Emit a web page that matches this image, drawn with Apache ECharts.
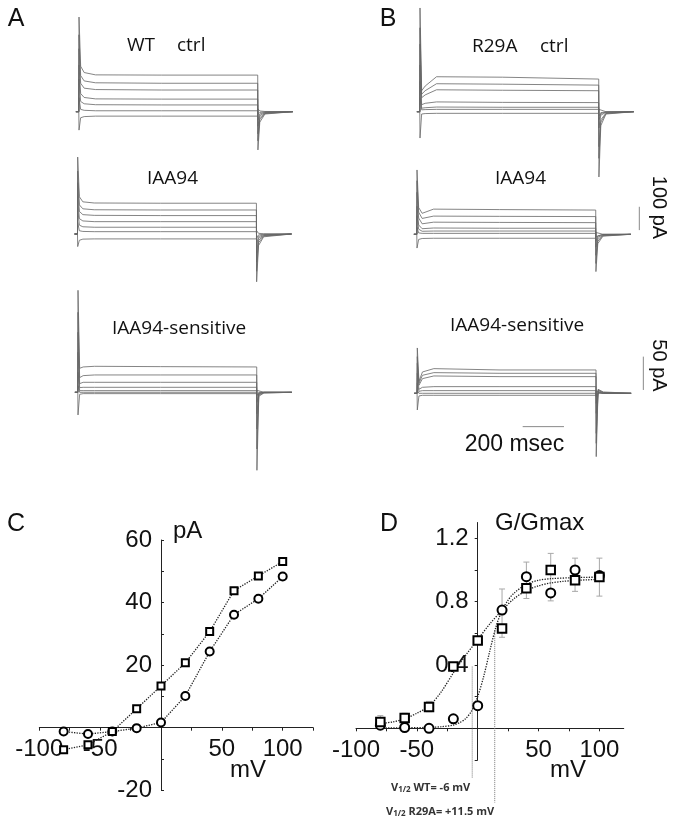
<!DOCTYPE html>
<html><head><meta charset="utf-8">
<script src="https://cdn.jsdelivr.net/npm/echarts@6/dist/echarts.min.js"></script>
<style>html,body{margin:0;padding:0;background:#fff}#c{width:683px;height:824px}</style>
</head><body><div id="c"></div>
<script>
// ---------- current traces (pA) sampled at shared times (ms) ----------
const tPts = [-15, -1, 0, 8, 25, 80, 400, 865, 866, 875, 900, 1035];
const aCtrl = [
  [0,0,406,195,168,158,157,157,-164,-45,-10,0],
  [0,0,330,155,132,124,122,122,-125,-34,-8,0],
  [0,0,270,122,101,95,93,93,-95,-26,-6,0],
  [0,0,200,78,61,55,54,54,-62,-17,-4,0],
  [0,0,140,44,34,30,29,29,-36,-10,-2,0],
  [0,0,60,10,6,4,4,4,-12,-3,-1,0],
  [0,0,-79,-26,-21,-19,-19,-19,12,3,1,0]
];
const aIaa = [
  [0,0,330,160,138,133,132,132,-205,-50,-12,0],
  [0,0,270,125,108,104,103,103,-160,-38,-9,0],
  [0,0,220,97,83,80,79,79,-120,-28,-7,0],
  [0,0,160,66,56,53,53,53,-80,-19,-5,0],
  [0,0,110,38,31,29,29,29,-45,-11,-3,0],
  [0,0,50,14,11,10,10,10,-18,-4,-1,0],
  [0,0,-54,-27,-22,-21,-21,-21,14,3,1,0]
];
const aSens = [
  [0,0,153,36,38,39,38.5,38,-117,-6,-1,0],
  [0,0,120,22,25,26,26,26,-85,-4,-1,0],
  [0,0,90,13,15,15,15,15,-55,-3,0,0],
  [0,0,60,7,7.5,7.5,7.5,7.5,-32,-2,0,0],
  [0,0,30,2.5,2.5,2.5,2.5,2.5,-15,-1,0,0],
  [0,0,10,0,0,0,0,0,-5,0,0,0],
  [0,0,-34,-3,-2,-2,-2,-2,3,0,0,0]
];
const bCtrl = [
  [0,0,445,90,110,150,148,140,-280,-60,-10,0],
  [0,0,360,75,90,120,118,114,-200,-45,-8,0],
  [0,0,290,60,72,94,92,90,-150,-35,-6,0],
  [0,0,200,30,36,42,40,39,-70,-15,-3,0],
  [0,0,130,15,17,20,19,19,-35,-8,-2,0],
  [0,0,60,8,9,10,10,10,-18,-4,-1,0],
  [0,0,-113,-10,-8,-7,-7,-7,10,2,0,0]
];
const bIaa = [
  [0,0,276,115,90,108,106,104,-160,-40,-8,0],
  [0,0,230,95,68,78,77,76,-125,-30,-6,0],
  [0,0,180,70,45,52,51,50,-90,-22,-4,0],
  [0,0,120,40,24,27,26,26,-55,-13,-3,0],
  [0,0,80,22,13,14,14,14,-30,-7,-1,0],
  [0,0,30,6,4,4,4,4,-10,-2,0,0],
  [0,0,-59,-22,-18,-17,-17,-17,8,2,0,0]
];
const bSens = [
  [0,0,68,18,32,37,35,35,-95,6,2,0],
  [0,0,55,15,27,31,30,30,-75,5,1,0],
  [0,0,45,12,22,26,25,25,-60,4,1,0],
  [0,0,30,6,9,10,10,10,-30,2,0,0],
  [0,0,15,3,4,4,4,4,-15,1,0,0],
  [0,0,5,0,0,0,0,0,-5,0,0,0],
  [0,0,-25,-4,-3,-3,-3,-3,3,0,0,0]
];
// scale bars (data units of their panels)
const bar100pA = [[1076, 18], [1076, 118]];
const bar50pA = [[1094, 5], [1094, 55]];
const bar200ms = [[510, -50], [710, -50]];

// ---------- panel C: I-V ----------
const ivV = [-80, -60, -40, -20, 0, 20, 40, 60, 80, 100];
const wtIV = [-7.1, -5.5, -1.3, 6.0, 13.3, 20.7, 30.7, 43.8, 48.5, 53.1];
const r29IV = [-1.3, -2.1, -1.3, -0.2, 1.6, 10.1, 24.3, 36.1, 41.2, 48.3];
const cXLabels = [-100, -50, 50, 100];
const cYLabels = [-20, 20, 40, 60];

// ---------- panel D: G/Gmax ----------
const wtG = [0.04, 0.065, 0.135, 0.39, 0.555, 0.63, 0.885, 1.0, 0.935, 0.955];
const r29G = [0.02, 0.005, 0.0, 0.06, 0.143, 0.747, 0.958, 0.855, 1.0, 0.965];
const errV = [-80, -60, -40, 20, 40, 60, 80, 100];
const errLo = [0.01, 0.035, 0.105, 0.575, 0.82, 0.805, 0.865, 0.835];
const errHi = [0.08, 0.095, 0.17, 0.88, 1.05, 1.105, 1.075, 1.075];
const wtFitV = [-80, -70, -60, -50, -40, -30, -20, -10, 0, 10, 20, 30, 40, 50, 60, 70, 80, 90, 100];
const wtFitG = [0.03, 0.04, 0.06, 0.095, 0.14, 0.23, 0.35, 0.46, 0.56, 0.66, 0.745, 0.82, 0.87, 0.9, 0.918, 0.928, 0.934, 0.938, 0.94];
const r29FitV = [-80, -60, -40, -30, -20, -15, -10, -5, 0, 5, 10, 15, 20, 25, 30, 40, 50, 60, 80, 100];
const r29FitG = [0.002, 0.003, 0.006, 0.01, 0.02, 0.035, 0.06, 0.11, 0.2, 0.33, 0.49, 0.64, 0.745, 0.81, 0.855, 0.91, 0.935, 0.945, 0.952, 0.955];
const halfWT = [[-4.5, 0.39], [-4.5, -0.315]];
const halfR29 = [[14, 0.62], [14, -0.47]];
const dXLabels = [-100, -50, 50, 100];
const dYLabels = [0.4, 0.8, 1.2];

// ---------- layout ----------
const MS_PX = 1 / 4.84;
const T_MIN = -40, T_MAX = 1100;
function traceGrid(x0, base, paPerPx, yMin, yMax) {
  return { left: x0 + T_MIN * MS_PX, top: base - yMax / paPerPx,
           width: (T_MAX - T_MIN) * MS_PX, height: (yMax - yMin) / paPerPx };
}
const panels = [
  { d: aCtrl, g: traceGrid(79, 111.7, 4.29, -300, 460), y: [-300, 460] },
  { d: aIaa,  g: traceGrid(77.7, 234, 4.29, -300, 460), y: [-300, 460] },
  { d: aSens, g: traceGrid(78, 392.3, 1.5, -150, 170), y: [-150, 170] },
  { d: bCtrl, g: traceGrid(420, 111.7, 4.29, -300, 460), y: [-300, 460] },
  { d: bIaa,  g: traceGrid(417, 234.3, 4.29, -300, 460), y: [-300, 460] },
  { d: bSens, g: traceGrid(417.3, 393.3, 1.5, -150, 170), y: [-150, 170] }
];
const grids = [], xAxes = [], yAxes = [], series = [];
panels.forEach((p, i) => {
  grids.push(p.g);
  xAxes.push({ type: 'value', gridIndex: i, min: T_MIN, max: T_MAX, show: false });
  yAxes.push({ type: 'value', gridIndex: i, min: p.y[0], max: p.y[1], show: false });
  p.d.forEach(tr => {
    series.push({ type: 'line', xAxisIndex: i, yAxisIndex: i, showSymbol: false, silent: true,
      data: tPts.map((t, k) => [t, tr[k]]),
      lineStyle: { color: '#666', width: 0.8 } });
  });
});
const scaleStyle = { color: '#8a8a8a', width: 1 };
series.push({ type: 'line', xAxisIndex: 4, yAxisIndex: 4, data: bar100pA, showSymbol: false, clip: false, lineStyle: scaleStyle });
series.push({ type: 'line', xAxisIndex: 5, yAxisIndex: 5, data: bar50pA, showSymbol: false, clip: false, lineStyle: scaleStyle });
series.push({ type: 'line', xAxisIndex: 5, yAxisIndex: 5, data: bar200ms, showSymbol: false, clip: false, lineStyle: scaleStyle });

const FONT = '"Liberation Sans", Arial, sans-serif';
const axisLabelBase = { fontFamily: FONT, fontSize: 24, color: '#111' };
const axLine = { onZero: false, lineStyle: { color: '#222', width: 1 } };
const pxPerMV = 1.217;
// C grid (index 6): origin at (161, 727.7)
const cGrid = { left: 161 - 100 * pxPerMV, top: 540, width: 225 * pxPerMV, height: 250 };
grids.push(cGrid);
xAxes.push({ type: 'value', gridIndex: 6, min: -100, max: 125, axisLine: axLine,
  offset: -(cGrid.top + cGrid.height - 727.7), splitLine: { show: false },
  axisTick: { show: true, length: 3, customValues: [-100, -75, -50, -25, 25, 50, 75, 100, 125], lineStyle: { color: '#222' } },
  axisLabel: Object.assign({ customValues: cXLabels, margin: 10 }, axisLabelBase) });
yAxes.push({ type: 'value', gridIndex: 6, min: -20, max: 60, axisLine: axLine,
  offset: -(161 - cGrid.left), splitLine: { show: false },
  axisTick: { show: true, inside: true, length: 3, customValues: [-20, -10, 10, 20, 30, 40, 50, 60], lineStyle: { color: '#222' } },
  axisLabel: Object.assign({ customValues: cYLabels, margin: 9 }, axisLabelBase) });
// D grid (index 7): origin at (477.7, 728.3)
const dGrid = { left: 477.7 - 100 * pxPerMV, top: 728.3 - 1.3 * 158.3, width: 220 * pxPerMV, height: 1.5 * 158.3 };
grids.push(dGrid);
xAxes.push({ type: 'value', gridIndex: 7, min: -100, max: 120, axisLine: axLine,
  offset: -(dGrid.top + dGrid.height - 728.3), splitLine: { show: false },
  axisTick: { show: true, length: 3, customValues: [-100, -75, -50, -25, 25, 50, 75, 100], lineStyle: { color: '#222' } },
  axisLabel: Object.assign({ customValues: dXLabels, margin: 10 }, axisLabelBase) });
yAxes.push({ type: 'value', gridIndex: 7, min: -0.2, max: 1.3, axisLine: axLine,
  offset: -(477.7 - dGrid.left), splitLine: { show: false },
  axisTick: { show: true, length: 3, customValues: [-0.2, 0.2, 0.4, 0.6, 0.8, 1.0, 1.2], lineStyle: { color: '#222' } },
  axisLabel: Object.assign({ customValues: dYLabels, margin: 9, formatter: v => v.toFixed(1) }, axisLabelBase) });

const dotted = { type: 'dotted', color: '#222', width: 1.3 };
const hollow = { color: '#fff', borderColor: '#000', borderWidth: 2, opacity: 1 };
series.push({ type: 'line', xAxisIndex: 6, yAxisIndex: 6, data: ivV.map((v, i) => [v, r29IV[i]]),
  symbol: 'circle', symbolSize: 8, lineStyle: dotted, itemStyle: hollow, z: 3 });
series.push({ type: 'line', xAxisIndex: 6, yAxisIndex: 6, data: ivV.map((v, i) => [v, wtIV[i]]),
  symbol: 'rect', symbolSize: 7, lineStyle: dotted, itemStyle: hollow, z: 4 });

// D: error bars
series.push({ type: 'custom', xAxisIndex: 7, yAxisIndex: 7, z: 2,
  data: errV.map((v, i) => [v, errLo[i], errHi[i]]),
  renderItem: function (params, api) {
    const a = api.coord([api.value(0), api.value(1)]);
    const b = api.coord([api.value(0), api.value(2)]);
    const st = { stroke: '#a8a8a8', lineWidth: 1 };
    return { type: 'group', children: [
      { type: 'line', shape: { x1: a[0], y1: a[1], x2: b[0], y2: b[1] }, style: st },
      { type: 'line', shape: { x1: a[0] - 3, y1: a[1], x2: a[0] + 3, y2: a[1] }, style: st },
      { type: 'line', shape: { x1: b[0] - 3, y1: b[1], x2: b[0] + 3, y2: b[1] }, style: st }
    ] };
  } });
series.push({ type: 'line', xAxisIndex: 7, yAxisIndex: 7, data: wtFitV.map((v, i) => [v, wtFitG[i]]),
  showSymbol: false, smooth: 0.3, lineStyle: dotted, z: 3 });
series.push({ type: 'line', xAxisIndex: 7, yAxisIndex: 7, data: r29FitV.map((v, i) => [v, r29FitG[i]]),
  showSymbol: false, smooth: 0.3, lineStyle: dotted, z: 3 });
const halfStyle = { type: 'dotted', color: '#777', width: 1 };
series.push({ type: 'line', xAxisIndex: 7, yAxisIndex: 7, data: halfWT, showSymbol: false, clip: false, lineStyle: halfStyle, z: 2 });
series.push({ type: 'line', xAxisIndex: 7, yAxisIndex: 7, data: halfR29, showSymbol: false, clip: false, lineStyle: halfStyle, z: 2 });
series.push({ type: 'scatter', xAxisIndex: 7, yAxisIndex: 7, data: ivV.map((v, i) => [v, r29G[i]]),
  symbol: 'circle', symbolSize: 9, itemStyle: hollow, z: 5 });
series.push({ type: 'scatter', xAxisIndex: 7, yAxisIndex: 7, data: ivV.map((v, i) => [v, wtG[i]]),
  symbol: 'rect', symbolSize: 8.5, itemStyle: hollow, z: 6 });

// ---------- text ----------
function txt(x, y, text, font, align, extra) {
  return Object.assign({ type: 'text', x: x, y: y, z: 100, silent: true,
    style: { text: text, font: font, fill: '#111', align: align || 'left', verticalAlign: 'middle',
             textAlign: align || 'left', textVerticalAlign: 'middle' } }, extra || {});
}
const TF = '19px "Open Sans", sans-serif';
const LF = '25px ' + FONT;
const graphic = [
  txt(16, 19, 'A', LF, 'center'), txt(388, 19, 'B', LF, 'center'),
  txt(16, 524, 'C', LF, 'center'), txt(389, 524, 'D', LF, 'center'),
  txt(127, 46, 'WT', TF), txt(177, 46, 'ctrl', TF),
  txt(472, 46.5, 'R29A', TF), txt(540, 46.5, 'ctrl', TF),
  txt(147, 179, 'IAA94', TF), txt(495, 178.3, 'IAA94', TF),
  txt(112, 328.5, 'IAA94-sensitive', TF), txt(450, 325.5, 'IAA94-sensitive', TF),
  txt(659, 207.5, '100 pA', '20px ' + FONT, 'center', { rotation: -Math.PI / 2 }),
  txt(659, 365.5, '50 pA', '20px ' + FONT, 'center', { rotation: -Math.PI / 2 }),
  txt(514.5, 445, '200 msec', '23px ' + FONT, 'center'),
  txt(173, 531, 'pA', '24px ' + FONT), txt(230, 770, 'mV', '24px ' + FONT),
  txt(495, 523, 'G/Gmax', '24px ' + FONT), txt(550, 770, 'mV', '24px ' + FONT)
];
const rich = {
  b: { font: 'bold 11px "Open Sans", sans-serif', fill: '#333' },
  s: { font: 'bold 8px "Open Sans", sans-serif', fill: '#333', verticalAlign: 'bottom' }
};
graphic.push({ type: 'text', x: 391, y: 788.3, z: 100, silent: true,
  style: { text: '{b|V}{s|1/2}{b| WT= -6 mV}', rich: rich, verticalAlign: 'middle', textVerticalAlign: 'middle' } });
graphic.push({ type: 'text', x: 386, y: 812.3, z: 100, silent: true,
  style: { text: '{b|V}{s|1/2}{b| R29A= +11.5 mV}', rich: rich, verticalAlign: 'middle', textVerticalAlign: 'middle' } });

const chart = echarts.init(document.getElementById('c'), null, { renderer: 'canvas' });
chart.setOption({
  backgroundColor: '#fff', animation: false,
  grid: grids, xAxis: xAxes, yAxis: yAxes, series: series, graphic: graphic
});
</script></body></html>
